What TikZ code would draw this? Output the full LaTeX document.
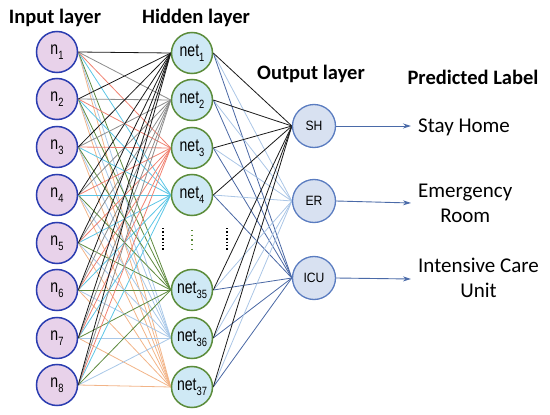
\documentclass[tikz,border=0pt]{standalone}
\usepackage{graphicx}
\usepackage{fontspec}
\setmainfont{Carlito}
\newfontfamily\arialf{Liberation Sans}
\usetikzlibrary{arrows.meta,backgrounds}
\definecolor{inborder}{HTML}{2A3CB0}
\definecolor{infill}{HTML}{E8D2EA}
\definecolor{hidborder}{HTML}{5B8C3A}
\definecolor{hidfill}{HTML}{CFE9F5}
\definecolor{outborder}{HTML}{5A7CC0}
\definecolor{outfill}{HTML}{D8E1F1}
\definecolor{cA}{HTML}{1A1A1A}
\definecolor{cB}{HTML}{8C8C8C}
\definecolor{cC}{HTML}{F08272}
\definecolor{cD}{HTML}{5CC6E6}
\definecolor{cE}{HTML}{5E8A3E}
\definecolor{cF}{HTML}{A9C8E8}
\definecolor{cG}{HTML}{F2B488}
\definecolor{oA}{HTML}{1A1A1A}
\definecolor{oB}{HTML}{ABC6E6}
\definecolor{oC}{HTML}{4A68A4}
\definecolor{arr}{HTML}{4A6AA8}
\newcommand{\lsub}[1]{\raisebox{-0.28em}{\fontsize{12}{12}\selectfont #1}}
\newcommand{\narrow}[1]{\scalebox{0.78}[1]{#1}}
\begin{document}
\begin{tikzpicture}[x=1pt,y=-1pt,
  innode/.style={circle,draw=inborder,fill=infill,line width=1.5pt,minimum size=41pt,inner sep=0pt,font=\arialf\fontsize{18}{18}\selectfont},
  hidnode/.style={circle,draw=hidborder,fill=hidfill,line width=1.5pt,minimum size=41pt,inner sep=0pt,font=\arialf\fontsize{18}{18}\selectfont},
  outnode/.style={circle,draw=outborder,fill=outfill,line width=1.3pt,minimum size=43pt,inner sep=0pt,font=\arialf\fontsize{13.5}{13.5}\selectfont},
  hdr/.style={font=\bfseries\fontsize{20.5}{22}\selectfont},
  lbl/.style={font=\fontsize{21}{25}\selectfont,align=center,anchor=west,inner sep=0pt},
  conn/.style={line width=0.8pt},
  outarrow/.style={draw=arr,line width=0.9pt,-{Stealth[length=8pt,width=5pt]}}
]
\useasboundingbox (0,0) rectangle (550,415);
% headers
\node[hdr] (hI) at (55,18) {Input layer};
\node[hdr] (hH) at (196,18) {Hidden layer};
\node[hdr] (hO) at (311,74) {Output layer};
\node[hdr] (hP) at (473,77) {Predicted Label};
% input nodes
\foreach \i/\y in {1/52,2/99,3/147,4/195,5/243,6/290,7/338,8/385}
  \node[innode] (n\i) at (57,\y) {\narrow{n\lsub{\i}}};
% hidden nodes
\foreach \j/\k/\y in {1/1/53,2/2/100,3/3/148,4/4/195,5/35/290,6/36/338,7/37/387}
  \node[hidnode] (h\j) at (192,\y) {\narrow{net\lsub{\k}}};
% output nodes
\node[outnode] (o1) at (314,126) {\scalebox{0.9}[1]{SH}};
\node[outnode] (o2) at (314,201) {\scalebox{0.9}[1]{ER}};
\node[outnode] (o3) at (314,278) {\scalebox{0.9}[1]{ICU}};
% connections
\begin{scope}[on background layer]
\foreach \j/\c in {7/cG,6/cF,5/cE,4/cD,3/cC,2/cB,1/cA}
  \foreach \i in {1,...,8}
    \draw[conn,draw=\c] (n\i.east) -- (h\j.west);
\foreach \j in {1,...,7}{
  \draw[conn,draw=oB] (h\j.east) -- (o2.west);
  \draw[conn,draw=oC] (h\j.east) -- (o3.west);
  \draw[conn,draw=oA] (h\j.east) -- (o1.west);
}
\end{scope}
% dots
\draw[line width=1.6pt,dash pattern=on 1.4pt off 2pt] (163,228) -- (163,250);
\draw[line width=1.6pt,dash pattern=on 1.4pt off 2pt] (227,228) -- (227,250);
\draw[line width=1.4pt,draw=hidborder,dash pattern=on 1.2pt off 3.5pt] (192,230) -- (192,250);
% arrows and labels
\coordinate (a1) at (411,126);
\coordinate (a2) at (411,203);
\coordinate (a3) at (411,279);
\draw[outarrow] (o1.east) -- (a1);
\draw[outarrow] (o2.east) -- (a2);
\draw[outarrow] (o3.east) -- (a3);
\node[lbl] (l1) at (418,127) {Stay Home};
\node[lbl] (l2) at (418,203) {Emergency\\Room};
\node[lbl] (l3) at (418,278) {Intensive Care\\Unit};
\end{tikzpicture}
\end{document}
